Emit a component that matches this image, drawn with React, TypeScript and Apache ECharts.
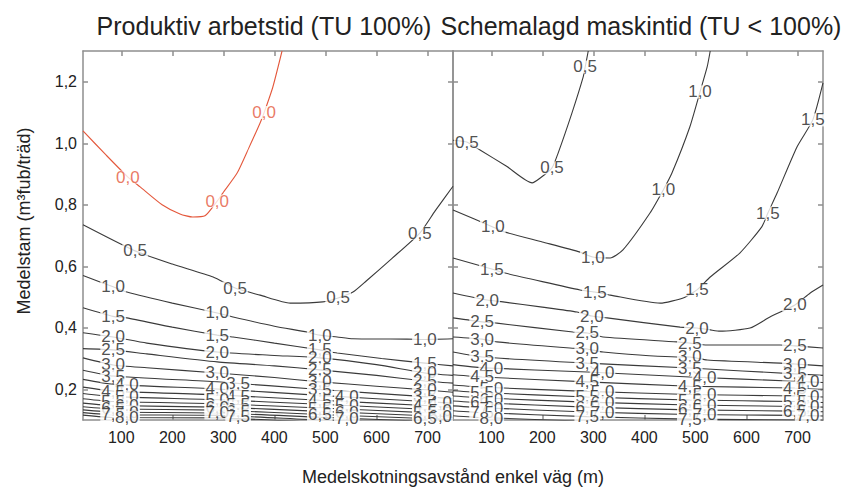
import React, { useEffect, useRef } from "react";
import * as echarts from "echarts";

const FONT = "'Liberation Sans', Arial, Helvetica, sans-serif";
const LINE_COLOR = "#3a3a3a";
const ZERO_COLOR = "#e4583c";
const AXIS_COLOR = "#8e8e8e";
const TEXT_COLOR = "#222222";

const PANEL_TITLES = ["Produktiv arbetstid (TU 100%)", "Schemalagd maskintid (TU < 100%)"];
const X_TITLE = "Medelskotningsavstånd enkel väg (m)";
const Y_TITLE = "Medelstam (m³fub/träd)";

const X_MIN = 25;
const X_MAX = 750;
const Y_MIN = 0.1;
const Y_MAX = 1.3;
const X_TICKS = [100, 200, 300, 400, 500, 600, 700];
const Y_TICKS = [0.2, 0.4, 0.6, 0.8, 1.0, 1.2];

// ---------- Left panel: Produktiv arbetstid (TU 100%) ----------
const L_00 = [[25, 1.04], [70, 0.962], [113, 0.89], [137, 0.858], [180, 0.8], [215, 0.77], [240, 0.76], [264, 0.764], [288, 0.812], [299, 0.838], [327, 0.903], [350, 0.985], [372, 1.066], [380, 1.1], [397, 1.183], [415, 1.3]];
const L_05 = [[25, 0.735], [127, 0.65], [200, 0.607], [280, 0.565], [323, 0.529], [372, 0.506], [431, 0.48], [495, 0.484], [525, 0.497], [554, 0.516], [580, 0.552], [630, 0.625], [685, 0.708], [715, 0.78], [750, 0.86]];
const L_10 = [[25, 0.57], [84, 0.533], [111, 0.516], [200, 0.48], [288, 0.448], [319, 0.435], [400, 0.405], [464, 0.386], [489, 0.376], [523, 0.37], [554, 0.364], [660, 0.363], [695, 0.362], [750, 0.364]];
const L_15 = [[25, 0.465], [84, 0.437], [111, 0.432], [200, 0.402], [288, 0.376], [319, 0.37], [400, 0.35], [489, 0.328], [523, 0.318], [610, 0.3], [695, 0.285], [750, 0.276]];
const L_20 = [[25, 0.384], [84, 0.37], [150, 0.35], [288, 0.321], [400, 0.31], [489, 0.302], [600, 0.28], [695, 0.253], [750, 0.245]];
const L_25 = [[25, 0.332], [84, 0.328], [150, 0.315], [288, 0.289], [400, 0.276], [489, 0.263], [600, 0.245], [695, 0.227], [750, 0.22]];
const L_30 = [[25, 0.302], [84, 0.279], [150, 0.27], [288, 0.253], [400, 0.238], [489, 0.224], [600, 0.21], [695, 0.198], [750, 0.19]];
const L_35 = [[25, 0.262], [84, 0.243], [288, 0.224], [489, 0.199], [695, 0.176], [750, 0.169]];
const L_40 = [[25, 0.232], [84, 0.216], [288, 0.201], [489, 0.18], [695, 0.16], [750, 0.154]];
const L_45 = [[25, 0.207], [84, 0.194], [288, 0.182], [489, 0.164], [695, 0.147], [750, 0.141]];
const L_50 = [[25, 0.186], [84, 0.176], [288, 0.166], [489, 0.151], [695, 0.135], [750, 0.13]];
const L_55 = [[25, 0.169], [84, 0.16], [288, 0.153], [489, 0.139], [695, 0.124], [750, 0.12]];
const L_60 = [[25, 0.155], [84, 0.147], [288, 0.142], [489, 0.128], [695, 0.114], [750, 0.11]];
const L_65 = [[25, 0.143], [84, 0.136], [288, 0.132], [489, 0.118], [695, 0.105], [750, 0.101]];
const L_70 = [[25, 0.133], [84, 0.126], [288, 0.123], [489, 0.109], [695, 0.096], [750, 0.093]];
const L_75 = [[25, 0.124], [84, 0.117], [288, 0.115], [489, 0.1], [695, 0.088], [750, 0.085]];
const L_80 = [[25, 0.116], [84, 0.108], [288, 0.107], [489, 0.092], [695, 0.08], [750, 0.078]];

const LEFT_LINES: [number, number[][]][] = [
  [0.0, L_00], [0.5, L_05], [1.0, L_10], [1.5, L_15], [2.0, L_20], [2.5, L_25], [3.0, L_30],
  [3.5, L_35], [4.0, L_40], [4.5, L_45], [5.0, L_50], [5.5, L_55], [6.0, L_60], [6.5, L_65],
  [7.0, L_70], [7.5, L_75], [8.0, L_80],
];

// contour labels: [level, x, y]
const LEFT_LABELS: [number, number, number][] = [
  [0.0, 113, 0.89], [0.0, 288, 0.812], [0.0, 380, 1.1],
  [0.5, 127, 0.65], [0.5, 323, 0.529], [0.5, 525, 0.497], [0.5, 685, 0.708],
  [1.0, 84, 0.533], [1.0, 288, 0.448], [1.0, 489, 0.376], [1.0, 695, 0.362],
  [1.5, 84, 0.437], [1.5, 288, 0.376], [1.5, 489, 0.328], [1.5, 695, 0.285],
  [2.0, 84, 0.37], [2.0, 288, 0.321], [2.0, 489, 0.302], [2.0, 695, 0.253],
  [2.5, 84, 0.328], [2.5, 489, 0.263], [2.5, 695, 0.227],
  [3.0, 84, 0.279], [3.0, 288, 0.253], [3.0, 489, 0.224], [3.0, 695, 0.198],
  [3.5, 84, 0.243], [4.0, 111, 0.214], [4.5, 84, 0.194], [5.0, 111, 0.175], [5.5, 84, 0.16],
  [6.0, 111, 0.146], [6.5, 84, 0.136], [7.0, 111, 0.126], [7.5, 84, 0.117], [8.0, 111, 0.108],
  [3.5, 329, 0.219], [4.0, 288, 0.201], [4.5, 329, 0.178], [5.0, 288, 0.166], [5.5, 329, 0.15],
  [6.0, 288, 0.142], [6.5, 329, 0.129], [7.0, 288, 0.123], [7.5, 329, 0.112],
  [3.5, 489, 0.199], [4.0, 542, 0.175], [4.5, 489, 0.164], [5.0, 542, 0.147], [5.5, 489, 0.139],
  [6.0, 542, 0.124], [6.5, 489, 0.118], [7.0, 542, 0.106],
  [3.5, 695, 0.176], [4.0, 725, 0.157], [4.5, 695, 0.147], [5.0, 725, 0.132], [5.5, 695, 0.124],
  [6.0, 725, 0.112], [6.5, 695, 0.105],
];

// ---------- Right panel: Schemalagd maskintid (TU < 100%) ----------
const R_05 = [[25, 1.01], [52, 1.004], [78, 0.978], [130, 0.925], [180, 0.871], [196, 0.887], [219, 0.92], [231, 0.968], [258, 1.098], [280, 1.215], [284, 1.248], [290, 1.3]];
const R_10 = [[25, 0.783], [103, 0.728], [127, 0.711], [200, 0.679], [274, 0.646], [299, 0.63], [333, 0.627], [358, 0.653], [411, 0.773], [437, 0.848], [454, 0.903], [489, 1.053], [509, 1.167], [523, 1.248], [529, 1.3]];
const R_15 = [[25, 0.627], [101, 0.591], [127, 0.578], [200, 0.55], [274, 0.523], [303, 0.516], [333, 0.506], [431, 0.48], [476, 0.497], [503, 0.523], [529, 0.565], [587, 0.643], [630, 0.728], [642, 0.773], [660, 0.838], [699, 0.988], [730, 1.076], [750, 1.196]];
const R_20 = [[25, 0.513], [92, 0.49], [123, 0.484], [200, 0.467], [268, 0.451], [297, 0.438], [327, 0.432], [470, 0.402], [503, 0.399], [529, 0.393], [548, 0.389], [607, 0.399], [646, 0.435], [695, 0.474], [725, 0.513], [750, 0.539]];
const R_25 = [[25, 0.432], [82, 0.419], [111, 0.415], [260, 0.386], [288, 0.383], [319, 0.37], [464, 0.354], [489, 0.35], [523, 0.344], [666, 0.344], [695, 0.341], [750, 0.334]];
const R_30 = [[25, 0.37], [82, 0.363], [111, 0.354], [254, 0.334], [288, 0.331], [319, 0.321], [464, 0.305], [489, 0.305], [523, 0.295], [666, 0.285], [695, 0.282], [750, 0.276]];
const R_35 = [[25, 0.321], [82, 0.305], [288, 0.285], [489, 0.269], [695, 0.25], [750, 0.245]];
const R_40 = [[25, 0.28], [82, 0.27], [288, 0.256], [489, 0.24], [695, 0.226], [750, 0.222]];
const R_45 = [[25, 0.247], [82, 0.24], [288, 0.224], [489, 0.21], [695, 0.204], [750, 0.2]];
const R_50 = [[25, 0.214], [82, 0.207], [288, 0.193], [489, 0.183], [695, 0.178], [750, 0.175]];
const R_55 = [[25, 0.195], [82, 0.189], [288, 0.175], [489, 0.165], [695, 0.16], [750, 0.157]];
const R_60 = [[25, 0.178], [82, 0.172], [288, 0.158], [489, 0.149], [695, 0.144], [750, 0.142]];
const R_65 = [[25, 0.162], [82, 0.156], [288, 0.142], [489, 0.133], [695, 0.129], [750, 0.127]];
const R_70 = [[25, 0.146], [82, 0.14], [288, 0.126], [489, 0.118], [695, 0.115], [750, 0.113]];
const R_75 = [[25, 0.13], [82, 0.124], [288, 0.111], [489, 0.103], [695, 0.1], [750, 0.099]];
const R_80 = [[25, 0.114], [82, 0.108], [288, 0.096], [489, 0.089], [695, 0.086], [750, 0.085]];

const RIGHT_LINES: [number, number[][]][] = [
  [0.5, R_05], [1.0, R_10], [1.5, R_15], [2.0, R_20], [2.5, R_25], [3.0, R_30],
  [3.5, R_35], [4.0, R_40], [4.5, R_45], [5.0, R_50], [5.5, R_55], [6.0, R_60], [6.5, R_65],
  [7.0, R_70], [7.5, R_75], [8.0, R_80],
];

const RIGHT_LABELS: [number, number, number][] = [
  [0.5, 52, 1.004], [0.5, 219, 0.92], [0.5, 284, 1.248],
  [1.0, 103, 0.728], [1.0, 299, 0.63], [1.0, 437, 0.848], [1.0, 509, 1.167],
  [1.5, 101, 0.591], [1.5, 303, 0.516], [1.5, 503, 0.523], [1.5, 642, 0.773], [1.5, 730, 1.076],
  [2.0, 92, 0.49], [2.0, 297, 0.438], [2.0, 503, 0.399], [2.0, 695, 0.474],
  [2.5, 82, 0.419], [2.5, 288, 0.383], [2.5, 489, 0.35], [2.5, 695, 0.341],
  [3.0, 82, 0.363], [3.0, 288, 0.331], [3.0, 489, 0.305], [3.0, 695, 0.282],
  [3.5, 82, 0.305], [3.5, 288, 0.285], [3.5, 489, 0.269], [3.5, 695, 0.25],
  [4.0, 100, 0.267], [4.0, 318, 0.254], [4.0, 518, 0.238], [4.0, 720, 0.224],
  [4.5, 82, 0.24], [4.5, 288, 0.224], [4.5, 489, 0.21], [4.5, 695, 0.204],
  [5.0, 100, 0.203], [5.0, 318, 0.192], [5.0, 518, 0.182], [5.0, 720, 0.177],
  [5.5, 82, 0.189], [5.5, 288, 0.175], [5.5, 489, 0.165], [5.5, 695, 0.16],
  [6.0, 100, 0.168], [6.0, 318, 0.157], [6.0, 518, 0.148], [6.0, 720, 0.143],
  [6.5, 82, 0.156], [6.5, 288, 0.142], [6.5, 489, 0.133], [6.5, 695, 0.129],
  [7.0, 100, 0.136], [7.0, 318, 0.125], [7.0, 518, 0.117], [7.0, 720, 0.114],
  [7.5, 82, 0.124], [7.5, 288, 0.111], [7.5, 489, 0.103],
  [8.0, 100, 0.105],
];

function fmt(v: number): string {
  return v.toFixed(1).replace(".", ",");
}

function xAxis(grid: number, position: "top" | "bottom", labels: boolean) {
  return {
    type: "value",
    gridIndex: grid,
    position,
    min: X_MIN,
    max: X_MAX,
    axisLine: { show: true, onZero: false, lineStyle: { color: AXIS_COLOR, width: 1.5 } },
    axisTick: { show: true, inside: true, length: 5, customValues: X_TICKS, lineStyle: { color: AXIS_COLOR, width: 1.5 } },
    axisLabel: { show: labels, customValues: X_TICKS, fontSize: 16, fontFamily: FONT, color: TEXT_COLOR, margin: 9 },
    splitLine: { show: false },
  };
}

function yAxis(grid: number, position: "left" | "right", labels: boolean) {
  return {
    type: "value",
    gridIndex: grid,
    position,
    min: Y_MIN,
    max: Y_MAX,
    axisLine: { show: true, onZero: false, lineStyle: { color: AXIS_COLOR, width: 1.5 } },
    axisTick: { show: true, inside: true, length: 5, customValues: Y_TICKS, lineStyle: { color: AXIS_COLOR, width: 1.5 } },
    axisLabel: {
      show: labels,
      customValues: Y_TICKS,
      fontSize: 16,
      fontFamily: FONT,
      color: TEXT_COLOR,
      margin: 6,
      formatter: (v: number) => fmt(v),
    },
    splitLine: { show: false },
  };
}

function panelSeries(panel: number, lines: [number, number[][]][], labels: [number, number, number][]) {
  const axisIdx = panel * 2;
  const out: any[] = lines.map(([level, pts]) => ({
    type: "line",
    name: `${panel}-${fmt(level)}`,
    xAxisIndex: axisIdx,
    yAxisIndex: axisIdx,
    data: pts,
    symbol: "none",
    showSymbol: false,
    smooth: 0.2,
    silent: true,
    clip: true,
    z: 2,
    lineStyle: { color: level === 0 ? ZERO_COLOR : LINE_COLOR, width: 1.1 },
  }));
  const sorted = labels.slice().sort((a, b) => a[0] - b[0]);
  out.push({
    type: "scatter",
    xAxisIndex: axisIdx,
    yAxisIndex: axisIdx,
    symbolSize: 1,
    silent: true,
    clip: false,
    z: 5,
    itemStyle: { color: "rgba(0,0,0,0)" },
    data: sorted.map(([level, x, y]) => ({
      value: [x, y],
      name: fmt(level),
      label: { color: level === 0 ? ZERO_COLOR : TEXT_COLOR },
    })),
    label: {
      show: true,
      position: "inside",
      formatter: (p: any) => p.name,
      fontSize: 17,
      fontFamily: FONT,
      backgroundColor: "#ffffff",
      padding: [0, 1],
      lineHeight: 13,
    },
  });
  return out;
}

export default function App() {
  const ref = useRef<HTMLDivElement>(null);
  useEffect(() => {
    if (!ref.current) return;
    const chart = echarts.init(ref.current, null, { renderer: "svg" });
    const grids = [
      { left: 83, top: 51, width: 370, height: 369 },
      { left: 453, top: 51, width: 370, height: 369 },
    ];
    const option: any = {
      animation: false,
      backgroundColor: "#ffffff",
      grid: grids.map((g) => ({ ...g, containLabel: false })),
      xAxis: [xAxis(0, "bottom", true), xAxis(0, "top", false), xAxis(1, "bottom", true), xAxis(1, "top", false)],
      yAxis: [yAxis(0, "left", true), yAxis(0, "right", false), yAxis(1, "left", false), yAxis(1, "right", false)],
      series: [...panelSeries(0, LEFT_LINES, LEFT_LABELS), ...panelSeries(1, RIGHT_LINES, RIGHT_LABELS)],
      graphic: [
        {
          type: "text",
          x: 264,
          y: 26,
          style: { text: PANEL_TITLES[0], fontSize: 25, fontFamily: FONT, fill: TEXT_COLOR, textAlign: "center", textVerticalAlign: "middle" },
        },
        {
          type: "text",
          x: 641,
          y: 26,
          style: { text: PANEL_TITLES[1], fontSize: 25, fontFamily: FONT, fill: TEXT_COLOR, textAlign: "center", textVerticalAlign: "middle" },
        },
        {
          type: "text",
          x: 453,
          y: 477,
          style: { text: X_TITLE, fontSize: 18, fontFamily: FONT, fill: TEXT_COLOR, textAlign: "center", textVerticalAlign: "middle" },
        },
        {
          type: "text",
          x: 24,
          y: 221,
          rotation: Math.PI / 2,
          style: { text: Y_TITLE, fontSize: 18, fontFamily: FONT, fill: TEXT_COLOR, textAlign: "center", textVerticalAlign: "middle" },
        },
      ],
    };
    chart.setOption(option);
    return () => chart.dispose();
  }, []);
  return <div ref={ref} style={{ position: "absolute", left: 0, top: 0, width: 849, height: 488 }} />;
}
